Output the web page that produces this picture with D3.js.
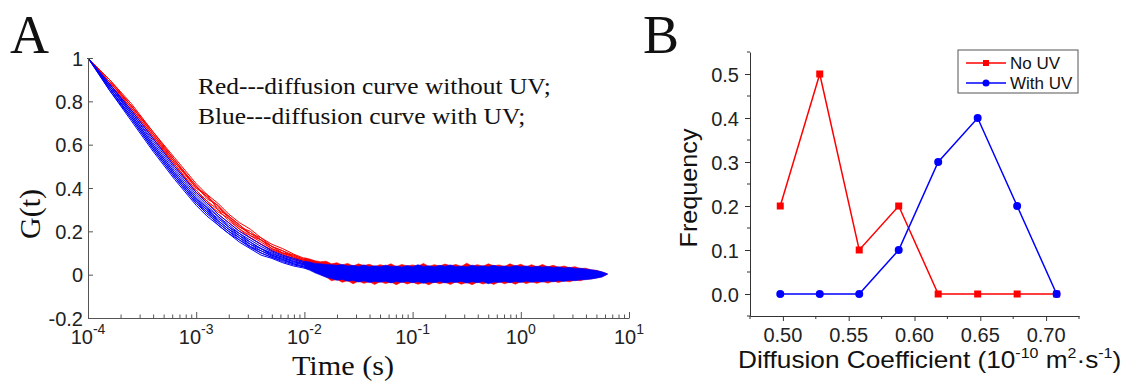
<!DOCTYPE html>
<html><head><meta charset="utf-8">
<script src="https://cdn.jsdelivr.net/npm/d3@7"></script>
<style>body{margin:0;background:#fff}svg{display:block}</style>
</head><body>
<svg id="chart" width="1123" height="381"></svg>
<script>
// ---------- Panel A data ----------
const decayLogT = [-4.0,-3.8,-3.6,-3.4,-3.2,-3.0,-2.9,-2.8,-2.7,-2.6,-2.5,-2.4,-2.3,-2.2,-2.1,-2.0,-1.9,-1.8,-1.7,-1.6];
const redCurves = [
  [1,0.90,0.79,0.66,0.54,0.42,0.37,0.33,0.28,0.24,0.21,0.17,0.14,0.12,0.095,0.075,0.06,0.045,0.03,0.02],
  [1,0.89,0.78,0.65,0.53,0.41,0.36,0.31,0.27,0.23,0.19,0.16,0.13,0.11,0.09,0.07,0.05,0.04,0.03,0.02],
  [1,0.89,0.77,0.64,0.52,0.40,0.36,0.32,0.26,0.22,0.20,0.16,0.12,0.10,0.085,0.065,0.055,0.035,0.025,0.015],
  [1,0.88,0.76,0.63,0.51,0.39,0.34,0.30,0.25,0.21,0.18,0.15,0.12,0.10,0.08,0.06,0.045,0.035,0.02,0.012],
  [1,0.90,0.78,0.66,0.53,0.40,0.37,0.30,0.27,0.23,0.18,0.16,0.13,0.10,0.09,0.07,0.05,0.03,0.025,0.015],
  [1,0.88,0.77,0.64,0.51,0.38,0.33,0.29,0.26,0.21,0.17,0.14,0.115,0.095,0.075,0.055,0.045,0.03,0.02,0.01],
  [1,0.89,0.78,0.65,0.52,0.41,0.35,0.32,0.27,0.22,0.19,0.17,0.13,0.11,0.08,0.065,0.05,0.04,0.025,0.015],
  [1,0.88,0.76,0.63,0.50,0.38,0.34,0.28,0.24,0.20,0.17,0.14,0.11,0.09,0.07,0.055,0.04,0.03,0.02,0.01]
];
const blueCurves = [
  [1,0.88,0.76,0.63,0.50,0.38,0.33,0.28,0.24,0.20,0.17,0.14,0.11,0.09,0.075,0.06,0.045,0.035,0.025,0.015],
  [1,0.88,0.75,0.62,0.49,0.37,0.32,0.27,0.23,0.19,0.16,0.13,0.105,0.085,0.07,0.055,0.04,0.03,0.02,0.012],
  [1,0.87,0.75,0.61,0.48,0.36,0.31,0.27,0.22,0.19,0.15,0.12,0.10,0.08,0.065,0.05,0.04,0.028,0.02,0.01],
  [1,0.87,0.74,0.60,0.47,0.35,0.30,0.26,0.22,0.18,0.15,0.12,0.095,0.08,0.06,0.05,0.035,0.025,0.018,0.01],
  [1,0.87,0.74,0.60,0.47,0.35,0.31,0.25,0.21,0.18,0.14,0.12,0.09,0.075,0.06,0.045,0.035,0.025,0.015,0.008],
  [1,0.86,0.73,0.59,0.46,0.34,0.29,0.25,0.21,0.17,0.14,0.11,0.09,0.07,0.055,0.045,0.03,0.02,0.015,0.008],
  [1,0.86,0.73,0.59,0.46,0.34,0.30,0.24,0.20,0.17,0.13,0.11,0.085,0.07,0.05,0.04,0.03,0.02,0.012,0.005],
  [1,0.86,0.72,0.58,0.45,0.33,0.28,0.24,0.20,0.16,0.13,0.10,0.08,0.065,0.05,0.035,0.025,0.018,0.01,0.005],
  [1,0.85,0.72,0.58,0.45,0.33,0.29,0.23,0.19,0.16,0.125,0.10,0.08,0.06,0.045,0.035,0.025,0.015,0.01,0.003],
  [1,0.85,0.71,0.57,0.44,0.32,0.27,0.23,0.19,0.15,0.12,0.09,0.075,0.055,0.04,0.03,0.02,0.012,0.008,0.002]
];
// noise band of the plateau (log10 t from -2.0 to 0.8, step 0.05)
const bandBlueUpper = [0.062,0.058,0.052,0.05,0.047,0.046,0.043,0.047,0.04,0.043,0.038,0.045,0.037,0.041,0.036,0.044,0.038,0.04,0.035,0.042,0.037,0.046,0.038,0.041,0.036,0.043,0.039,0.045,0.037,0.04,0.036,0.044,0.038,0.041,0.037,0.043,0.036,0.04,0.035,0.042,0.037,0.04,0.034,0.039,0.035,0.038,0.033,0.036,0.031,0.034,0.029,0.03,0.026,0.023,0.019,0.013,0.004];
const bandBlueLower = [0.03,0.02,0.008,-0.002,-0.012,-0.018,-0.026,-0.022,-0.03,-0.027,-0.034,-0.029,-0.036,-0.031,-0.035,-0.03,-0.038,-0.032,-0.036,-0.031,-0.037,-0.033,-0.04,-0.034,-0.037,-0.032,-0.038,-0.034,-0.036,-0.031,-0.039,-0.033,-0.037,-0.032,-0.042,-0.034,-0.036,-0.031,-0.037,-0.032,-0.036,-0.03,-0.035,-0.031,-0.034,-0.029,-0.033,-0.028,-0.031,-0.026,-0.028,-0.024,-0.023,-0.02,-0.016,-0.011,0.002];
const bandRedUpper = [0.078,0.072,0.064,0.06,0.062,0.05,0.055,0.045,0.052,0.04,0.05,0.042,0.048,0.038,0.046,0.04,0.05,0.037,0.047,0.04,0.045,0.039,0.052,0.038,0.046,0.04,0.049,0.041,0.047,0.038,0.053,0.04,0.046,0.039,0.05,0.041,0.045,0.038,0.05,0.04,0.048,0.037,0.046,0.036,0.047,0.036,0.043,0.034,0.04,0.032,0.037,0.028,0.03,0.022,0.02,0.012,0.004];
const bandRedLower = [0.05,0.035,0.02,0.0,-0.01,-0.028,-0.022,-0.035,-0.028,-0.042,-0.03,-0.04,-0.033,-0.045,-0.032,-0.041,-0.034,-0.046,-0.033,-0.043,-0.035,-0.044,-0.036,-0.047,-0.034,-0.042,-0.035,-0.045,-0.033,-0.044,-0.036,-0.046,-0.034,-0.043,-0.035,-0.045,-0.033,-0.042,-0.034,-0.044,-0.032,-0.041,-0.033,-0.04,-0.031,-0.039,-0.03,-0.036,-0.028,-0.033,-0.025,-0.028,-0.02,-0.02,-0.014,-0.01,0.002];
const yTicksA = [-0.2,0,0.2,0.4,0.6,0.8,1];
const xDecadesA = [-4,-3,-2,-1,0,1];

// ---------- Panel B data ----------
const diffCoef = [0.498,0.528,0.558,0.588,0.618,0.648,0.678,0.708];
const freqNoUV = [0.2,0.5,0.1,0.2,0,0,0,0];
const freqWithUV = [0,0,0,0.1,0.3,0.4,0.2,0];
const xTicksB = [0.50,0.55,0.60,0.65,0.70];
const yTicksB = [0.0,0.1,0.2,0.3,0.4,0.5];

const RED = "#ff0000", BLUE = "#0000ff";
const serif = "'Liberation Serif','Times New Roman',serif";
const sans = "'Liberation Sans',Arial,sans-serif";
const svg = d3.select("#chart");

// ================= Panel A =================
const xA = d3.scaleLog().domain([1e-4, 10]).range([88, 629]);
const yA = d3.scaleLinear().domain([-0.2, 1]).range([318, 58]);
const gA = svg.append("g");

const bandT = d3.range(bandBlueUpper.length).map(i => Math.pow(10, -2 + 0.05 * i));
function band(upper, lower) {
  return d3.area().x((d, i) => xA(bandT[i])).y0((d, i) => yA(lower[i])).y1(d => yA(d))(upper);
}
gA.append("path").attr("d", band(bandRedUpper, bandRedLower)).attr("fill", RED).attr("stroke", RED).attr("stroke-width", 0.6);
const lineA = d3.line().x((d, i) => xA(Math.pow(10, decayLogT[i]))).y(d => yA(d));
gA.selectAll(".rc").data(redCurves).join("path").attr("class", "rc")
  .attr("d", lineA).attr("fill", "none").attr("stroke", RED).attr("stroke-width", 1);
gA.append("path").attr("d", band(bandBlueUpper, bandBlueLower)).attr("fill", BLUE).attr("stroke", BLUE).attr("stroke-width", 0.6);
gA.selectAll(".bc").data(blueCurves).join("path").attr("class", "bc")
  .attr("d", lineA).attr("fill", "none").attr("stroke", BLUE).attr("stroke-width", 1);

// axes A
const allXTicks = [];
xDecadesA.forEach(e => { for (let k = 1; k <= 9; k++) { const v = k * Math.pow(10, e); if (v <= 10.0001) allXTicks.push(v); } });
const axXA = gA.append("g").attr("transform", "translate(0,318)")
  .call(d3.axisBottom(xA).tickValues(allXTicks).tickSize(-3.5).tickSizeOuter(0).tickFormat(""));
axXA.selectAll(".tick line").filter(d => Math.abs(Math.log10(d) - Math.round(Math.log10(d))) < 1e-6).attr("y2", -6);
const axYA = gA.append("g").attr("transform", "translate(88,0)")
  .call(d3.axisLeft(yA).tickValues(yTicksA).tickSize(-5).tickSizeOuter(0).tickPadding(5)
    .tickFormat(d => String(+d.toFixed(1))));
[axXA, axYA].forEach(a => { a.select(".domain").attr("stroke", "#555"); a.selectAll(".tick line").attr("stroke", "#555"); });
axYA.selectAll("text").attr("font-family", sans).attr("font-size", 20).attr("fill", "#222").attr("dy", "0.36em");

xDecadesA.forEach(e => {
  const t = gA.append("text").attr("x", xA(Math.pow(10, e))).attr("y", 344)
    .attr("text-anchor", "middle").attr("font-family", sans).attr("font-size", 20).attr("fill", "#222");
  t.append("tspan").text("10");
  t.append("tspan").attr("dy", -10).attr("font-size", 14).text(String(e));
});

gA.append("text").attr("transform", "translate(343,375) scale(1.08,1)").attr("text-anchor", "middle")
  .attr("font-family", serif).attr("font-size", 28).attr("fill", "#111").text("Time (s)");
gA.append("text").attr("transform", "translate(40,214) rotate(-90)").attr("text-anchor", "middle")
  .attr("font-family", serif).attr("font-size", 30).attr("fill", "#111").text("G(t)");
gA.append("text").attr("transform", "translate(198,94) scale(1.06,1)").attr("font-family", serif).attr("font-size", 24)
  .attr("fill", "#111").text("Red---diffusion curve without UV;");
gA.append("text").attr("transform", "translate(198,124) scale(1.06,1)").attr("font-family", serif).attr("font-size", 24)
  .attr("fill", "#111").text("Blue---diffusion curve with UV;");
svg.append("text").attr("x", 10).attr("y", 53).attr("font-family", serif).attr("font-size", 54).attr("fill", "#111").text("A");
svg.append("text").attr("x", 643).attr("y", 53).attr("font-family", serif).attr("font-size", 54).attr("fill", "#111").text("B");

// ================= Panel B =================
const xB = d3.scaleLinear().domain([0.475, 0.725]).range([750, 1079]);
const yB = d3.scaleLinear().domain([-0.05, 0.55]).range([316, 52]);
const gB = svg.append("g");

const axXB = gB.append("g").attr("transform", "translate(0,316)")
  .call(d3.axisBottom(xB).tickValues(xTicksB).tickSize(5).tickSizeOuter(0).tickFormat(""));
const axYB = gB.append("g").attr("transform", "translate(750,0)")
  .call(d3.axisLeft(yB).tickValues(yTicksB).tickSize(5).tickSizeOuter(0).tickPadding(6).tickFormat(d3.format(".1f")));
// minor ticks
const minorXB = xTicksB.map(v => v - 0.025).concat([0.725]);
gB.selectAll(".mxb").data(minorXB).join("line").attr("x1", d => xB(d)).attr("x2", d => xB(d))
  .attr("y1", 316).attr("y2", 319).attr("stroke", "#333");
const minorYB = yTicksB.map(v => v - 0.05).concat([0.55]);
gB.selectAll(".myb").data(minorYB).join("line").attr("y1", d => yB(d)).attr("y2", d => yB(d))
  .attr("x1", 750).attr("x2", 747).attr("stroke", "#333");
[axXB, axYB].forEach(a => {
  a.select(".domain").attr("stroke", "#333");
  a.selectAll(".tick line").attr("stroke", "#333");
  a.selectAll("text").attr("font-family", sans).attr("font-size", 20).attr("fill", "#222");
});
axYB.selectAll("text").attr("dy", "0.36em");
// x tick labels of panel B placed explicitly
gB.selectAll(".xlb").data(xTicksB).join("text").attr("class", "xlb")
  .attr("x", d => xB(d)).attr("y", 342).attr("text-anchor", "middle")
  .attr("font-family", sans).attr("font-size", 20).attr("fill", "#222").text(d3.format(".2f"));

const lineB = (vals) => d3.line().x((d, i) => xB(diffCoef[i])).y(d => yB(d))(vals);
gB.append("path").attr("d", lineB(freqNoUV)).attr("fill", "none").attr("stroke", RED).attr("stroke-width", 1.5);
gB.selectAll(".sq").data(freqNoUV).join("rect").attr("x", (d, i) => xB(diffCoef[i]) - 3.5)
  .attr("y", d => yB(d) - 3.5).attr("width", 7).attr("height", 7).attr("fill", RED);
gB.append("path").attr("d", lineB(freqWithUV)).attr("fill", "none").attr("stroke", BLUE).attr("stroke-width", 1.5);
gB.selectAll(".ci").data(freqWithUV).join("circle").attr("cx", (d, i) => xB(diffCoef[i]))
  .attr("cy", d => yB(d)).attr("r", 4).attr("fill", BLUE);

gB.append("text").attr("transform", "translate(697,188) rotate(-90) scale(1.05,1)").attr("text-anchor", "middle")
  .attr("font-family", sans).attr("font-size", 24).attr("fill", "#111").text("Frequency");
const xl = gB.append("text").attr("transform", "translate(738,368) scale(1.14,1)")
  .attr("font-family", sans).attr("font-size", 23).attr("fill", "#111");
xl.append("tspan").text("Diffusion Coefficient (10");
xl.append("tspan").attr("dy", -10).attr("font-size", 14).text("-10");
xl.append("tspan").attr("dy", 10).text(" m");
xl.append("tspan").attr("dy", -10).attr("font-size", 14).text("2");
xl.append("tspan").attr("dy", 10).text("\u00b7s");
xl.append("tspan").attr("dy", -10).attr("font-size", 14).text("-1");
xl.append("tspan").attr("dy", 10).text(")");

// legend
const lg = gB.append("g");
lg.append("rect").attr("x", 958).attr("y", 50).attr("width", 120).attr("height", 43)
  .attr("fill", "#fff").attr("stroke", "#555").attr("stroke-width", 1);
const legendItems = [
  { name: "No UV", color: RED, shape: "square", y: 63 },
  { name: "With UV", color: BLUE, shape: "circle", y: 83 }
];
legendItems.forEach(it => {
  lg.append("line").attr("x1", 966).attr("x2", 1006).attr("y1", it.y).attr("y2", it.y)
    .attr("stroke", it.color).attr("stroke-width", 1.5);
  if (it.shape === "square") lg.append("rect").attr("x", 983).attr("y", it.y - 3).attr("width", 6).attr("height", 6).attr("fill", it.color);
  else lg.append("circle").attr("cx", 986).attr("cy", it.y).attr("r", 3.5).attr("fill", it.color);
  lg.append("text").attr("x", 1010).attr("y", it.y + 6).attr("font-family", sans).attr("font-size", 17)
    .attr("fill", "#111").text(it.name);
});
</script>
</body></html>
